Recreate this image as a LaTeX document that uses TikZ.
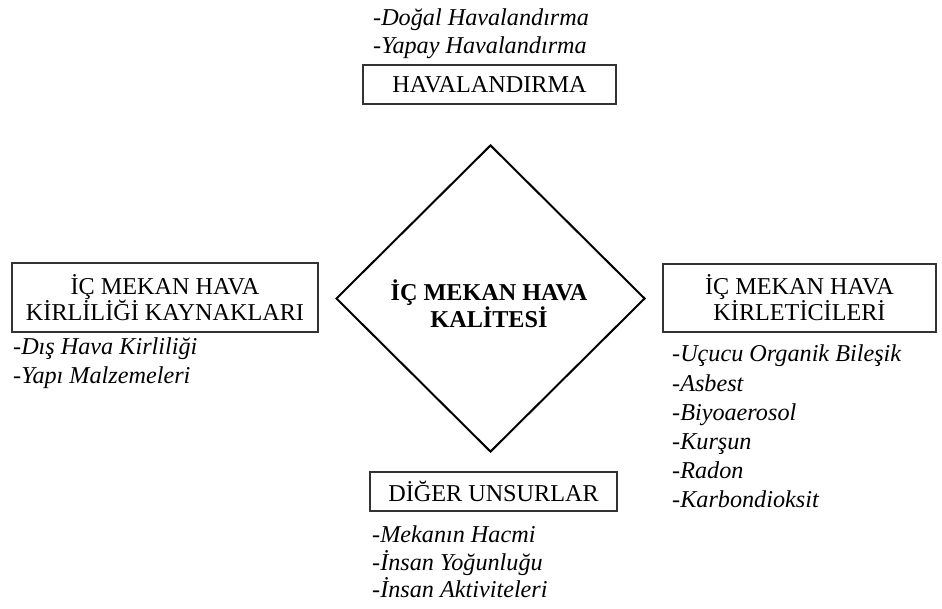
\documentclass[tikz,border=0pt]{standalone}
\usepackage{fontspec}
\setmainfont{Liberation Serif}
\usetikzlibrary{shapes.geometric}
\begin{document}
\begin{tikzpicture}[x=1pt,y=-1pt,
  box/.style={draw=black!80, line width=1.1pt, inner sep=0pt, align=center,
    font=\fontsize{24.2}{23.5}\selectfont},
  item/.style={anchor=base west, inner sep=0pt,
    font=\fontsize{24.2}{27}\selectfont\itshape},
  core/.style={draw, line width=2pt, shape=diamond, inner sep=0pt,
    minimum width=309pt, minimum height=307pt}]
\useasboundingbox[fill=white] (0,0) rectangle (942,609);

% central diamond
\node[core] (quality) at (490.5,298.5) {};
\node[align=center, inner sep=0pt, font=\fontsize{24.2}{27}\selectfont\bfseries]
  (qualitytext) at (489,304) {İÇ MEKAN HAVA\\KALİTESİ};

% four surrounding boxes
\node[box, minimum width=253pt, minimum height=39pt] (vent) at (489.5,84.5) {HAVALANDIRMA};
\node[box, minimum width=306pt, minimum height=69pt] (sources) at (165,297.5)
  {İÇ MEKAN HAVA\\KİRLİLİĞİ KAYNAKLARI};
\node[box, minimum width=273pt, minimum height=68pt] (pollutants) at (799.5,298)
  {İÇ MEKAN HAVA\\KİRLETİCİLERİ};
\node[box, minimum width=247pt, minimum height=39pt] (other) at (493.5,491.5) {DİĞER UNSURLAR};

% ventilation items
\node[item] (v1) at (373,26) {-Doğal Havalandırma};
\node[item] (v2) at (373,54) {-Yapay Havalandırma};

% source items
\node[item] (s1) at (13,355) {-Dış Hava Kirliliği};
\node[item] (s2) at (13,383.5) {-Yapı Malzemeleri};

% pollutant items
\node[item] (p1) at (672,362) {-Uçucu Organik Bileşik};
\node[item] (p2) at (672,391) {-Asbest};
\node[item] (p3) at (672,420) {-Biyoaerosol};
\node[item] (p4) at (672,449) {-Kurşun};
\node[item] (p5) at (672,478) {-Radon};
\node[item] (p6) at (672,507) {-Karbondioksit};

% other factors
\node[item] (o1) at (372,542) {-Mekanın Hacmi};
\node[item] (o2) at (372,570) {-İnsan Yoğunluğu};
\node[item] (o3) at (372,597) {-İnsan Aktiviteleri};
\end{tikzpicture}
\end{document}
